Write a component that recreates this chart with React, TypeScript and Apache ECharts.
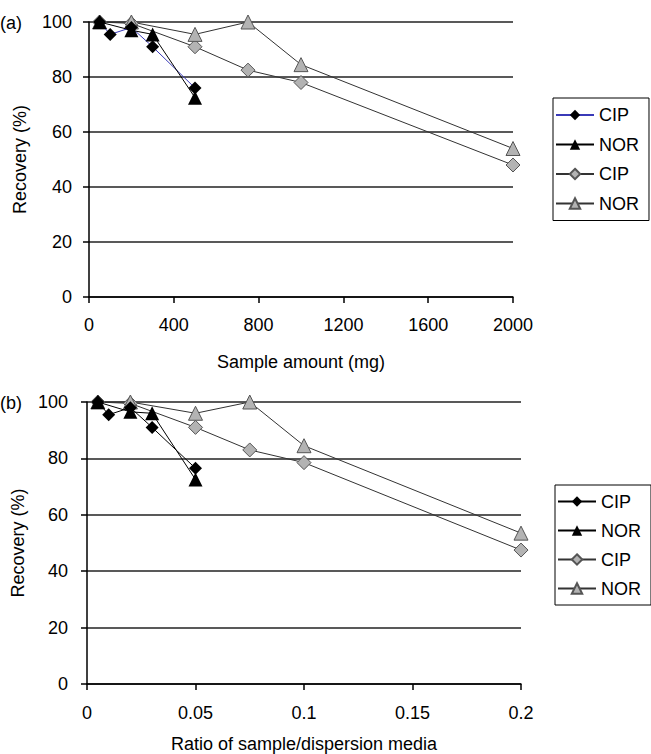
import React, { useEffect, useRef } from "react";
import * as echarts from "echarts";

// Panel (a): sample amount (mg) vs recovery (%)
const blackCipA: [number, number][] = [[50, 100], [100, 95.5], [200, 98], [300, 91], [500, 76]];
const blackNorA: [number, number][] = [[50, 100], [200, 97], [300, 95.5], [500, 72.5]];
const grayCipA: [number, number][] = [[50, 100], [200, 99.5], [500, 91], [750, 82.5], [1000, 78], [2000, 48]];
const grayNorA: [number, number][] = [[50, 100], [200, 100], [500, 95.5], [750, 100], [1000, 84.5], [2000, 54]];

// Panel (b): ratio of sample/dispersion media vs recovery (%)
const blackCipB: [number, number][] = [[0.005, 100], [0.01, 95.5], [0.02, 98], [0.03, 91], [0.05, 76.5]];
const blackNorB: [number, number][] = [[0.005, 100], [0.02, 96.5], [0.03, 96], [0.05, 72.5]];
const grayCipB: [number, number][] = [[0.005, 100], [0.02, 99.5], [0.05, 91], [0.075, 83], [0.1, 78.5], [0.2, 47.5]];
const grayNorB: [number, number][] = [[0.005, 100], [0.02, 100], [0.05, 96], [0.075, 100], [0.1, 84.5], [0.2, 53.5]];

const FONT = "Liberation Sans";
const FS = 18;

export default function App() {
  const ref = useRef<HTMLDivElement>(null);
  useEffect(() => {
    if (!ref.current) return;
    const chart = echarts.init(ref.current, null, { renderer: "svg" });
    const txt = { fontFamily: FONT, fontSize: FS, color: "#000" };
    const yAxisBase = (gridIndex: number, margin: number, gap: number) => ({
      type: "value",
      gridIndex,
      min: 0,
      max: 100,
      interval: 20,
      name: "Recovery (%)",
      nameLocation: "middle",
      nameGap: gap,
      nameTextStyle: txt,
      axisLine: { show: true, lineStyle: { color: "#000", width: 1.5 } },
      axisTick: { show: true, length: 6, lineStyle: { color: "#000", width: 1.5 } },
      axisLabel: { ...txt, margin },
      splitLine: { show: true, lineStyle: { color: "#222", width: 1.5 } },
    });
    const grayItem = { color: "#b3b3b3", borderColor: "#555", borderWidth: 1 };
    const blackItem = { color: "#000" };
    const mk = (
      name: string,
      data: [number, number][],
      idx: number,
      symbol: string,
      size: number,
      item: any,
      lineColor: string,
      z: number
    ) => ({
      type: "line",
      name,
      data,
      xAxisIndex: idx,
      yAxisIndex: idx,
      symbol,
      symbolSize: size,
      showAllSymbol: true,
      clip: false,
      z,
      itemStyle: item,
      lineStyle: { color: lineColor, width: 1 },
      emphasis: { disabled: true },
    });
    const legendBase = {
      orient: "vertical",
      borderColor: "#000",
      borderWidth: 1,
      itemWidth: 38,
      itemHeight: 13,
      textStyle: txt,
      formatter: (n: string) => n.trim(),
    };
    chart.setOption({
      animation: false,
      backgroundColor: "#fff",
      grid: [
        { left: 89, top: 22, width: 424, height: 275 },
        { left: 87, top: 402, width: 434, height: 282 },
      ],
      xAxis: [
        {
          type: "value",
          gridIndex: 0,
          min: 0,
          max: 2000,
          interval: 400,
          name: "Sample amount (mg)",
          nameLocation: "middle",
          nameGap: 56,
          nameTextStyle: txt,
          axisLine: { show: true, onZero: false, lineStyle: { color: "#000", width: 1.5 } },
          axisTick: { show: true, length: 6, lineStyle: { color: "#000", width: 1.5 } },
          axisLabel: { ...txt, margin: 19, formatter: (v: number) => String(v) },
          splitLine: { show: false },
        },
        {
          type: "value",
          gridIndex: 1,
          min: 0,
          max: 0.2,
          interval: 0.05,
          name: "Ratio of sample/dispersion media",
          nameLocation: "middle",
          nameGap: 51,
          nameTextStyle: txt,
          axisLine: { show: true, onZero: false, lineStyle: { color: "#000", width: 1.5 } },
          axisTick: { show: true, length: 6, lineStyle: { color: "#000", width: 1.5 } },
          axisLabel: { ...txt, margin: 20, formatter: (v: number) => String(+v.toFixed(3)) },
          splitLine: { show: false },
        },
      ],
      yAxis: [yAxisBase(0, 17, 60), yAxisBase(1, 19, 57)],
      legend: [
        {
          ...legendBase,
          left: 553,
          top: 98,
          padding: [8, 10, 8, 2],
          itemGap: 11.5,
          data: ["CIP", "NOR", "CIP ", "NOR "],
        },
        {
          ...legendBase,
          left: 555,
          top: 485,
          padding: [7.5, 10, 7.5, 2],
          itemGap: 11,
          data: ["CIP  ", "NOR  ", "CIP   ", "NOR   "],
        },
      ],
      graphic: [
        { type: "text", left: 0, top: 14, style: { text: "(a)", font: `${FS}px "${FONT}"`, fill: "#000" } },
        { type: "text", left: 0, top: 394, style: { text: "(b)", font: `${FS}px "${FONT}"`, fill: "#000" } },
      ],
      series: [
        mk("CIP ", grayCipA, 0, "diamond", 14, grayItem, "#333", 2),
        mk("NOR ", grayNorA, 0, "triangle", 14, grayItem, "#333", 2),
        mk("CIP", blackCipA, 0, "diamond", 13, blackItem, "#3a3ab8", 3),
        mk("NOR", blackNorA, 0, "triangle", 14, blackItem, "#000", 3),
        mk("CIP   ", grayCipB, 1, "diamond", 14, grayItem, "#333", 2),
        mk("NOR   ", grayNorB, 1, "triangle", 14, grayItem, "#333", 2),
        mk("CIP  ", blackCipB, 1, "diamond", 13, blackItem, "#000", 3),
        mk("NOR  ", blackNorB, 1, "triangle", 14, blackItem, "#000", 3),
      ],
    });
    return () => chart.dispose();
  }, []);
  return (
    <div
      ref={ref}
      style={{ position: "absolute", left: 0, top: 0, width: 651, height: 754, background: "#fff" }}
    />
  );
}
